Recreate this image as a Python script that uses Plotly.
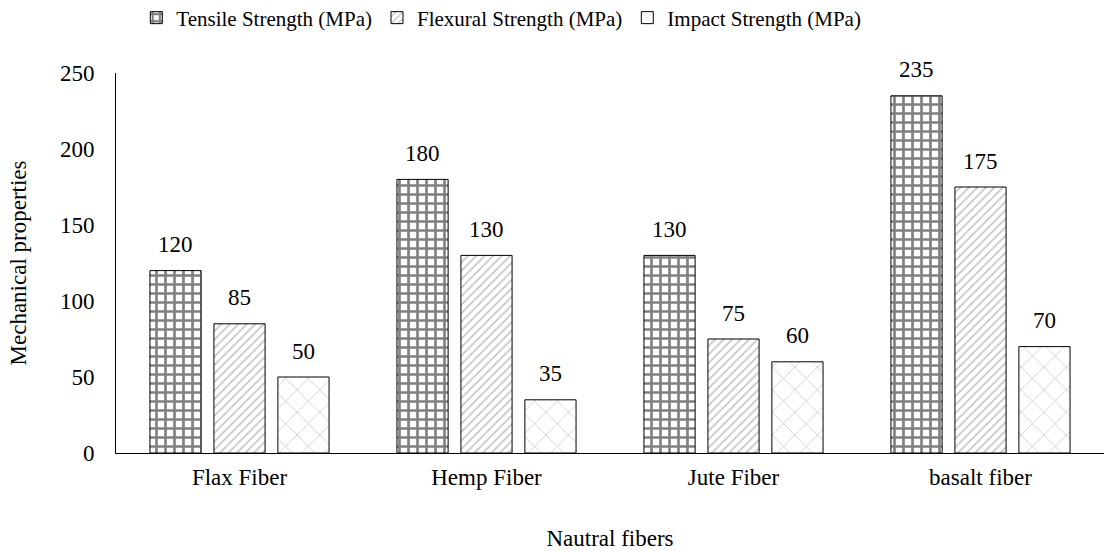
import plotly.graph_objects as go

categories = ["Flax Fiber", "Hemp Fiber", "Jute Fiber", "basalt fiber"]
tensile = [120, 180, 130, 235]
flexural = [85, 130, 75, 175]
impact = [50, 35, 60, 70]
series_names = ["Tensile Strength (MPa)", "Flexural Strength (MPa)", "Impact Strength (MPa)"]
y_ticks = [0, 50, 100, 150, 200, 250]

FONT = "Liberation Serif, Times New Roman, serif"
W, H = 1105, 552
ML, MR, MT, MB = 116, 1, 73, 99
BARGAP = 0.223

patterns = [
    dict(shape="+", fgcolor="black", bgcolor="white", size=9, solidity=0.5),
    dict(shape="/", fgcolor="#808080", bgcolor="white", size=6, solidity=0.25),
    dict(shape="x", fgcolor="#7a7a7a", bgcolor="white", size=16, solidity=0.08),
]

fig = go.Figure()
all_series = [tensile, flexural, impact]
for name, vals, pat in zip(series_names, all_series, patterns):
    fig.add_trace(go.Bar(
        x=categories, y=vals, name=name,
        marker=dict(color="white", line=dict(color="black", width=1), pattern=pat),
    ))

# data labels above each bar, offset to the bar's slot in the group
cat_px = (W - ML - MR) / len(categories)
slot_px = cat_px * (1 - BARGAP) / len(all_series)
annotations = []
for i, vals in enumerate(all_series):
    for c, v in zip(categories, vals):
        annotations.append(dict(
            x=c, y=v, xref="x", yref="y", text=str(v), showarrow=False,
            xshift=(i - (len(all_series) - 1) / 2) * slot_px,
            yanchor="middle", yshift=26,
            font=dict(family=FONT, size=23, color="black"),
        ))

plot_h = H - MT - MB
fig.update_layout(
    width=W, height=H,
    margin=dict(l=ML, r=MR, t=MT, b=MB, autoexpand=False),
    paper_bgcolor="white", plot_bgcolor="white",
    barmode="group", bargap=BARGAP, bargroupgap=0.2,
    font=dict(family=FONT, size=23, color="black"),
    showlegend=True,
    annotations=annotations,
    legend=dict(orientation="h", x=0.39, xanchor="center",
                y=1 + (MT - 18) / plot_h, yref="paper", yanchor="middle",
                font=dict(family=FONT, size=21), itemwidth=30,
                tracegroupgap=0),
    xaxis=dict(showline=True, linecolor="black", linewidth=1, ticks="",
               ticklabelstandoff=3, automargin=False,
               title=dict(text="Nautral fibers", font=dict(family=FONT, size=23), standoff=41),
               tickfont=dict(family=FONT, size=23)),
    yaxis=dict(range=[0, 250], tickvals=y_ticks, showline=True, linecolor="black",
               linewidth=1, showgrid=False, zeroline=False, ticks="",
               ticklabelstandoff=16, automargin=False,
               title=dict(text="Mechanical properties", font=dict(family=FONT, size=23), standoff=26),
               tickfont=dict(family=FONT, size=23)),
)

fig.write_html("out.html", config={"displayModeBar": False},
               post_script="document.body.style.margin='0';document.body.style.padding='0';")
